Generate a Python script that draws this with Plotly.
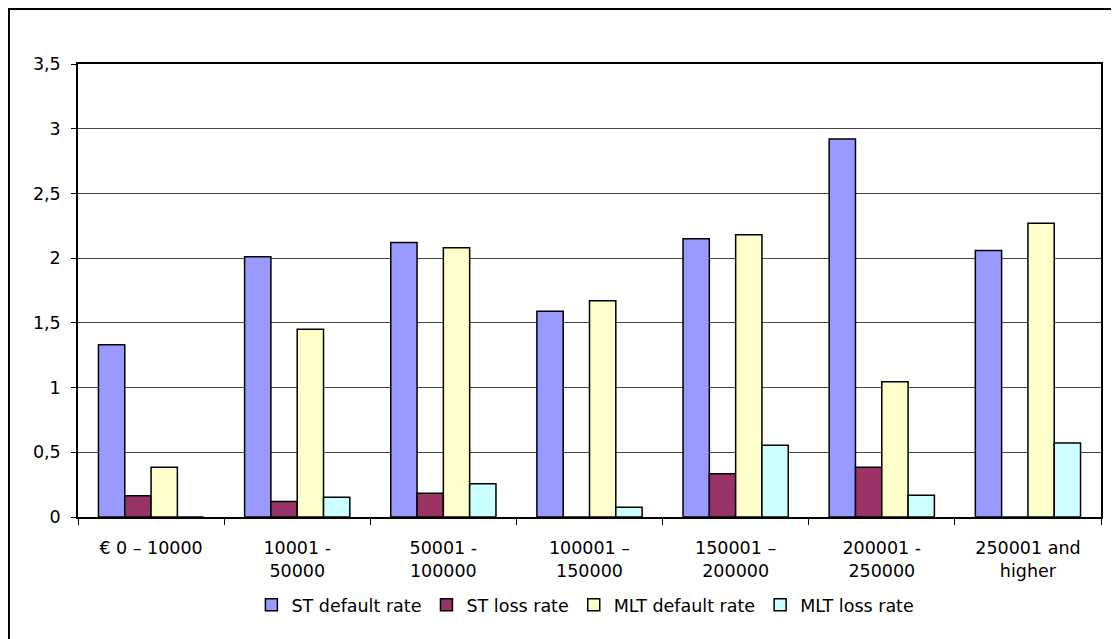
import plotly.graph_objects as go

categories = ["€ 0 – 10000", "10001 -<br>50000", "50001 -<br>100000", "100001 –<br>150000",
              "150001 –<br>200000", "200001 -<br>250000", "250001 and<br>higher"]
st_default = [1.33, 2.01, 2.12, 1.59, 2.15, 2.92, 2.06]
st_loss = [0.165, 0.12, 0.183, 0.0, 0.335, 0.384, 0.0]
mlt_default = [0.384, 1.45, 2.08, 1.67, 2.18, 1.045, 2.27]
mlt_loss = [0.0, 0.152, 0.257, 0.075, 0.554, 0.168, 0.572]

series = [
    ("ST default rate", st_default, "#9999FF"),
    ("ST loss rate", st_loss, "#993366"),
    ("MLT default rate", mlt_default, "#FFFFCC"),
    ("MLT loss rate", mlt_loss, "#CCFFFF"),
]

fig = go.Figure()
for name, vals, color in series:
    fig.add_trace(go.Bar(
        x=categories, y=vals, name=name,
        marker=dict(color=color, line=dict(color="black", width=1.5)),
    ))

font = dict(family="DejaVu Sans, sans-serif", size=17.5, color="black")

fig.update_layout(
    width=1111, height=631,
    margin=dict(l=70, r=18, t=56, b=122, autoexpand=False),
    paper_bgcolor="white", plot_bgcolor="white",
    separators=",.",
    barmode="group", bargap=0.28, bargroupgap=0,
    font=font,
    showlegend=True,
    legend=dict(orientation="h", x=0.496, xanchor="center", y=-0.194, yanchor="middle",
                font=font, itemwidth=30, traceorder="normal", tracegroupgap=0,
                bgcolor="rgba(0,0,0,0)"),
    xaxis=dict(showline=True, linecolor="black", linewidth=1.5, mirror=True,
               ticks="outside", ticklen=6, tickcolor="black", tickson="boundaries",
               tickfont=font, showgrid=False, automargin=False, ticklabelstandoff=14),
    yaxis=dict(range=[0, 3.5], dtick=0.5, showline=True, linecolor="black", linewidth=1.5,
               mirror=True, ticks="outside", ticklen=5, tickcolor="black",
               showgrid=True, gridcolor="#444444", gridwidth=1, tickfont=font,
               zeroline=False, tickformat=".1~f", automargin=False, ticklabelstandoff=7),
    shapes=[dict(type="rect", xref="paper", yref="paper",
                 x0=-0.0675, x1=1.05, y0=-0.4, y1=1.1214,
                 line=dict(color="black", width=2), fillcolor="rgba(0,0,0,0)", layer="below")],
)

fig.write_html("out.html")
